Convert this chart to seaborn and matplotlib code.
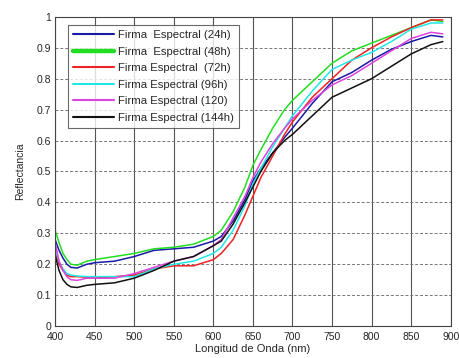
import matplotlib.pyplot as plt
import matplotlib.ticker as mticker
import numpy as np
import pandas as pd
import seaborn as sns

wavelength = [400, 405, 410, 415, 420, 428, 440, 450, 475, 500, 525, 550, 575,
              600, 610, 625, 640, 650, 660, 675, 690, 700, 725, 750, 775, 800,
              825, 850, 875, 890]

r_24h = [0.28, 0.245, 0.22, 0.20, 0.19, 0.188, 0.20, 0.205, 0.21, 0.225, 0.245, 0.25, 0.255,
         0.275, 0.29, 0.34, 0.41, 0.47, 0.51, 0.56, 0.61, 0.64,
         0.72, 0.79, 0.82, 0.86, 0.895, 0.92, 0.94, 0.935]
r_48h = [0.31, 0.27, 0.235, 0.215, 0.20, 0.197, 0.21, 0.215, 0.225, 0.235, 0.25, 0.255, 0.265,
         0.29, 0.31, 0.37, 0.45, 0.52, 0.57, 0.64, 0.70, 0.73,
         0.79, 0.85, 0.89, 0.915, 0.94, 0.965, 0.99, 0.985]
r_72h = [0.24, 0.20, 0.18, 0.165, 0.16, 0.16, 0.158, 0.155, 0.16, 0.165, 0.185, 0.195, 0.195,
         0.215, 0.235, 0.28, 0.36, 0.42, 0.48, 0.55, 0.62, 0.66,
         0.74, 0.80, 0.86, 0.90, 0.935, 0.965, 0.99, 0.99]
r_96h = [0.25, 0.21, 0.185, 0.17, 0.165, 0.162, 0.16, 0.16, 0.16, 0.16, 0.185, 0.20, 0.21,
         0.235, 0.255, 0.31, 0.39, 0.46, 0.51, 0.58, 0.64, 0.68,
         0.76, 0.83, 0.86, 0.885, 0.92, 0.96, 0.98, 0.98]
r_120 = [0.27, 0.21, 0.18, 0.16, 0.15, 0.148, 0.155, 0.155, 0.155, 0.17, 0.19, 0.21, 0.225,
         0.26, 0.28, 0.35, 0.42, 0.48, 0.53, 0.59, 0.64, 0.67,
         0.73, 0.78, 0.81, 0.85, 0.89, 0.93, 0.95, 0.945]
r_144h = [0.23, 0.18, 0.15, 0.135, 0.127, 0.125, 0.132, 0.135, 0.14, 0.155, 0.18, 0.21, 0.225,
          0.26, 0.275, 0.33, 0.40, 0.45, 0.50, 0.56, 0.60, 0.62,
          0.68, 0.74, 0.77, 0.80, 0.84, 0.88, 0.91, 0.92]

labels = ["Firma  Espectral (24h)", "Firma  Espectral (48h)", "Firma Espectral  (72h)",
          "Firma Espectral (96h)", "Firma Espectral (120)", "Firma Espectral (144h)"]
colors = ["#1a1aa8", "#22dd22", "#ee2222", "#22e6e6", "#dd44dd", "#111111"]
series = [r_24h, r_48h, r_72h, r_96h, r_120, r_144h]

df = pd.concat(
    [pd.DataFrame({"wl": wavelength, "r": s, "serie": lab}) for s, lab in zip(series, labels)]
)

sns.set_style("white")
plt.rcParams["font.family"] = ["Liberation Sans", "DejaVu Sans"]

fig, ax = plt.subplots(figsize=(4.59, 3.58), dpi=100)
fig.subplots_adjust(left=0.12, right=0.982, bottom=0.089, top=0.953)

sns.lineplot(data=df, x="wl", y="r", hue="serie", hue_order=labels,
             palette=colors, linewidth=1.1, ax=ax)

ax.set_xlim(400, 900)
ax.set_ylim(0, 1)
ax.xaxis.set_major_locator(mticker.MultipleLocator(50))
ax.yaxis.set_major_locator(mticker.MultipleLocator(0.1))
ax.yaxis.set_major_formatter(mticker.FuncFormatter(lambda v, p: f"{v:g}"))
ax.tick_params(direction="in", length=3, labelsize=7.5, color="#333333")
ax.tick_params(axis="x", pad=4)
ax.tick_params(axis="y", pad=3)

ax.grid(axis="x", color="#555555", linewidth=0.8, linestyle="-")
ax.grid(axis="y", color="#777777", linewidth=0.7, linestyle=(0, (3, 2)))
for sp in ax.spines.values():
    sp.set_color("#444444")
    sp.set_linewidth(0.8)

ax.set_xlabel("Longitud de Onda (nm)", fontsize=8, labelpad=2)
ax.set_ylabel("Reflectancia", fontsize=7.5, labelpad=8)

leg = ax.legend(loc="upper left", bbox_to_anchor=(0.033, 0.972), fontsize=8.2,
                frameon=True, fancybox=False, edgecolor="#444444",
                handlelength=3.6, handletextpad=0.4, labelspacing=0.58,
                borderpad=0.4, borderaxespad=0)
leg.get_frame().set_linewidth(0.8)
for i, h in enumerate(leg.legend_handles):
    h.set_linewidth(3.2 if i == 1 else 1.5)

plt.savefig("out.png", dpi=100)
